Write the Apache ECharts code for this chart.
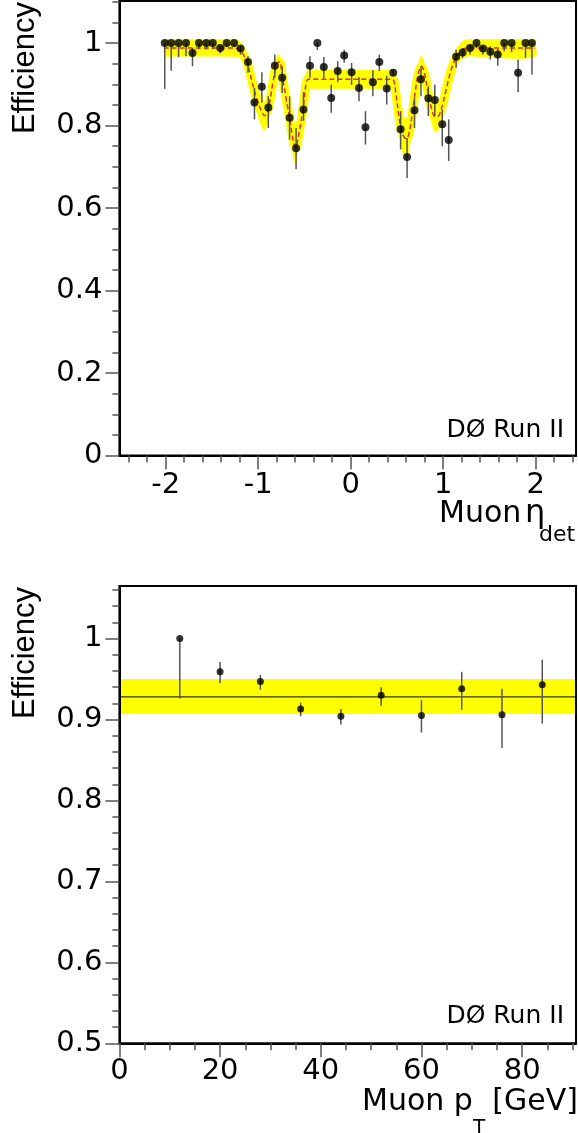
<!DOCTYPE html>
<html>
<head>
<meta charset="utf-8">
<title>Muon efficiency</title>
<script src="https://cdn.jsdelivr.net/npm/echarts@6/dist/echarts.min.js"></script>
<style>
  html, body { margin: 0; padding: 0; background: #fff; }
  #chart { width: 578px; height: 1133px; }
</style>
</head>
<body>
<div id="chart"></div>
<script>
// top panel: efficiency vs muon eta_det
var etaBins = [-2.01, -1.94, -1.86, -1.78, -1.71, -1.64, -1.56, -1.49, -1.41, -1.34, -1.26, -1.19, -1.11, -1.04,
  -0.96, -0.89, -0.82, -0.74, -0.66, -0.59, -0.51, -0.44, -0.36, -0.29, -0.21, -0.14, -0.07,
  0.01, 0.09, 0.16, 0.24, 0.31, 0.39, 0.46, 0.54, 0.61, 0.69, 0.76, 0.84, 0.91, 0.99,
  1.06, 1.14, 1.21, 1.29, 1.36, 1.43, 1.51, 1.59, 1.66, 1.74, 1.81, 1.89, 1.96];
var etaEff = [1.000, 1.000, 1.000, 1.000, 0.976, 1.000, 1.000, 1.000, 0.988, 1.000, 1.000, 0.987, 0.954, 0.856,
  0.894, 0.844, 0.945, 0.916, 0.819, 0.745, 0.839, 0.945, 1.000, 0.942, 0.867, 0.932, 0.970,
  0.929, 0.891, 0.796, 0.905, 0.954, 0.890, 0.928, 0.791, 0.724, 0.837, 0.912, 0.866, 0.862, 0.803,
  0.765, 0.967, 0.977, 0.988, 1.000, 0.987, 0.979, 0.972, 1.000, 1.000, 0.928, 1.000, 1.000];
var etaErrLow = [0.889, 0.933, 0.966, 0.968, 0.944, 0.985, 0.984, 0.985, 0.975, 0.990, 0.990, 0.972, 0.928, 0.815,
  0.855, 0.794, 0.916, 0.879, 0.766, 0.694, 0.811, 0.916, 0.983, 0.914, 0.831, 0.905, 0.952,
  0.899, 0.859, 0.754, 0.871, 0.932, 0.851, 0.920, 0.742, 0.673, 0.794, 0.871, 0.823, 0.823, 0.750,
  0.714, 0.940, 0.964, 0.972, 0.988, 0.972, 0.960, 0.945, 0.980, 0.978, 0.881, 0.964, 0.924];
var etaErrHigh = [1.000, 1.000, 1.000, 1.000, 0.988, 1.000, 1.000, 1.000, 0.994, 1.000, 1.000, 0.994, 0.968, 0.891,
  0.929, 0.871, 0.972, 0.944, 0.871, 0.794, 0.881, 0.968, 1.000, 0.966, 0.899, 0.956, 0.984,
  0.952, 0.918, 0.835, 0.934, 0.972, 0.921, 0.936, 0.835, 0.770, 0.867, 0.944, 0.895, 0.899, 0.839,
  0.815, 0.984, 0.988, 0.996, 1.000, 0.994, 0.992, 0.986, 1.000, 1.000, 0.960, 1.000, 1.000];

// fitted curve: centre and half-height of the yellow band
var fitEta = [-2.02, -1.30, -1.23, -1.19, -1.125, -1.07, -1.017, -0.962, -0.93, -0.887, -0.84, -0.80, -0.77,
  -0.739, -0.70, -0.663, -0.62, -0.595, -0.566, -0.512, -0.48, -0.46, -0.40, 0.40, 0.454, 0.49, 0.537,
  0.57, 0.60, 0.63, 0.666, 0.70, 0.73, 0.765, 0.80, 0.836, 0.87, 0.91, 0.94, 0.98, 1.03, 1.08, 1.135,
  1.20, 1.26, 1.35, 1.99];
var fitEff = [0.988, 0.988, 0.987, 0.982, 0.956, 0.910, 0.866, 0.834, 0.824, 0.845, 0.905, 0.949, 0.955,
  0.920, 0.868, 0.822, 0.762, 0.746, 0.772, 0.845, 0.905, 0.912, 0.912, 0.912, 0.912, 0.875, 0.800,
  0.775, 0.768, 0.780, 0.830, 0.885, 0.925, 0.944, 0.925, 0.880, 0.845, 0.822, 0.822, 0.840, 0.885, 0.930, 0.963,
  0.982, 0.988, 0.988, 0.988];
var fitErr = [0.021, 0.021, 0.021, 0.021, 0.024, 0.028, 0.033, 0.038, 0.036, 0.030, 0.024, 0.018, 0.018,
  0.022, 0.030, 0.035, 0.040, 0.040, 0.035, 0.028, 0.024, 0.023, 0.023, 0.023, 0.023, 0.030, 0.040,
  0.048, 0.050, 0.045, 0.035, 0.026, 0.024, 0.026, 0.026, 0.030, 0.035, 0.038, 0.036, 0.034, 0.028, 0.024, 0.022,
  0.021, 0.021, 0.021, 0.021];

// bottom panel: efficiency vs muon pT
var ptBins = [12, 20, 28, 36, 44, 52, 60, 68, 76, 84];
var ptEff = [1.000, 0.959, 0.947, 0.913, 0.904, 0.930, 0.905, 0.938, 0.906, 0.943];
var ptErrLow = [0.926, 0.945, 0.937, 0.904, 0.894, 0.917, 0.884, 0.912, 0.865, 0.895];
var ptErrHigh = [1.000, 0.971, 0.955, 0.921, 0.913, 0.940, 0.924, 0.959, 0.938, 0.974];
var ptFit = 0.928;
var ptBandLow = 0.907;
var ptBandHigh = 0.950;

// axis ticks
var etaTicks = [-2, -1, 0, 1, 2];
var effTicksTop = [0, 0.2, 0.4, 0.6, 0.8, 1];
var ptTicks = [0, 20, 40, 60, 80];
var effTicksBottom = [0.5, 0.6, 0.7, 0.8, 0.9, 1];

function steps(from, to, step) {
  var out = [];
  for (var v = from; v <= to + 1e-9; v += step) out.push(Math.round(v * 1000) / 1000);
  return out;
}

var tickFont = 'DejaVu Sans';
var tickColor = '#555';

function makeAxis(type, grid, min, max, major, minor, margin) {
  var pos = type === 'x' ? 'bottom' : 'left';
  var base = {
    type: 'value', gridIndex: grid, position: pos, min: min, max: max, z: 10,
    splitLine: { show: false }
  };
  var majorAxis = Object.assign({}, base, {
    axisLine: { show: true, onZero: false, lineStyle: { color: '#000', width: 2 } },
    axisTick: { show: true, length: 14, customValues: major, lineStyle: { color: tickColor, width: 1.5 } },
    axisLabel: { show: true, customValues: major, margin: margin, fontFamily: tickFont, fontSize: 29, color: '#000' }
  });
  var minorAxis = Object.assign({}, base, {
    axisLine: { show: false, onZero: false },
    axisTick: { show: true, length: 7, customValues: minor, lineStyle: { color: tickColor, width: 1.5 } },
    axisLabel: { show: false }
  });
  return [majorAxis, minorAxis];
}

var etaMin = -2.5, etaMax = 2.436;
var effTopMax = 1.102;
var ptMin = 0, ptMax = 90.7;
var effBotMin = 0.5, effBotMax = 1.065;

var xAxes = makeAxis('x', 0, etaMin, etaMax, etaTicks, steps(-2.4, 2.4, 0.2), 15)
  .concat(makeAxis('x', 1, ptMin, ptMax, ptTicks, steps(0, 90, 5), 14));
var yAxes = makeAxis('y', 0, 0, effTopMax, effTicksTop, steps(0, 1.1, 0.05), 17)
  .concat(makeAxis('y', 1, effBotMin, effBotMax, effTicksBottom, steps(0.5, 1.06, 0.02), 17));

function errorBar(params, api) {
  var p1 = api.coord([api.value(0), api.value(1)]);
  var p2 = api.coord([api.value(0), api.value(2)]);
  return {
    type: 'line',
    shape: { x1: p1[0], y1: p1[1], x2: p2[0], y2: p2[1] },
    style: { stroke: '#555', lineWidth: 1.5 }
  };
}

var yellow = '#ffff00';
var smoothing = 0.35;

// yellow band of the fit: one closed, smoothed polygon (corners doubled to keep the ends square)
function fitBand(params, api) {
  if (params.dataIndex !== 0) return null;
  var n = fitEta.length, pts = [], i;
  var up = function (k) { return api.coord([fitEta[k], fitEff[k] + fitErr[k]]); };
  var lo = function (k) { return api.coord([fitEta[k], fitEff[k] - fitErr[k]]); };
  pts.push(up(0));
  for (i = 0; i < n; i++) pts.push(up(i));
  pts.push(up(n - 1));
  for (i = n - 1; i >= 0; i--) pts.push(lo(i));
  pts.push(lo(0));
  return {
    type: 'polygon',
    shape: { points: pts, smooth: smoothing },
    style: { fill: yellow }
  };
}

var etaPoints = etaBins.map(function (x, i) { return [x, etaEff[i]]; });
var etaErrors = etaBins.map(function (x, i) { return [x, etaErrLow[i], etaErrHigh[i]]; });
var fitCurve = fitEta.map(function (x, i) { return [x, fitEff[i]]; });
var fitRows = fitEta.map(function (x, i) { return [x, fitEff[i] - fitErr[i], fitEff[i] + fitErr[i]]; });
var ptPoints = ptBins.map(function (x, i) { return [x, ptEff[i]]; });
var ptErrors = ptBins.map(function (x, i) { return [x, ptErrLow[i], ptErrHigh[i]]; });

var myChart = echarts.init(document.getElementById('chart'), null, { renderer: 'canvas' });

function textItem(x, y, text, size, family, align, rotate) {
  return {
    type: 'text', x: x, y: y, rotation: rotate ? Math.PI / 2 : 0, z: 100,
    style: {
      text: text, fontSize: size, fontFamily: family, fill: '#000',
      align: align, textAlign: align, verticalAlign: 'middle', textVerticalAlign: 'middle'
    }
  };
}

var option = {
  animation: false,
  backgroundColor: '#fff',
  grid: [
    { left: 119.4, top: 1, width: 456.6, height: 454.5, show: true, borderColor: '#000', borderWidth: 2,
      z: 10, containLabel: false, outerBoundsMode: 'none' },
    { left: 119.4, top: 586, width: 456.6, height: 457.3, show: true, borderColor: '#000', borderWidth: 2,
      z: 10, containLabel: false, outerBoundsMode: 'none' }
  ],
  xAxis: xAxes,
  yAxis: yAxes,
  series: [
    {
      type: 'custom', xAxisIndex: 0, yAxisIndex: 0, data: fitRows,
      renderItem: fitBand, encode: { x: 0, y: [1, 2] }, z: 1
    },
    {
      type: 'line', xAxisIndex: 0, yAxisIndex: 0, data: fitCurve,
      smooth: smoothing, symbol: 'none', z: 3,
      lineStyle: { color: yellow, width: 9, cap: 'butt', join: 'round' }
    },
    {
      type: 'line', xAxisIndex: 0, yAxisIndex: 0, data: fitCurve,
      smooth: smoothing, symbol: 'none', z: 4,
      lineStyle: { color: '#e8281e', width: 1.5, type: [5, 3] }
    },
    {
      type: 'custom', xAxisIndex: 0, yAxisIndex: 0, data: etaErrors,
      renderItem: errorBar, encode: { x: 0, y: [1, 2] }, z: 5
    },
    {
      type: 'scatter', xAxisIndex: 0, yAxisIndex: 0, data: etaPoints,
      symbol: 'circle', symbolSize: 8, itemStyle: { color: '#000' }, z: 6
    },
    {
      type: 'custom', xAxisIndex: 2, yAxisIndex: 2, data: [[ptBandLow, ptBandHigh]],
      renderItem: function (params, api) {
        var a = api.coord([ptMin, api.value(1)]);
        var b = api.coord([ptMax, api.value(0)]);
        return {
          type: 'rect',
          shape: { x: a[0], y: a[1], width: b[0] - a[0], height: b[1] - a[1] },
          style: { fill: yellow }
        };
      },
      z: 1
    },
    {
      type: 'line', xAxisIndex: 2, yAxisIndex: 2, data: [[ptMin, ptFit], [ptMax, ptFit]],
      symbol: 'none', z: 2, lineStyle: { color: '#333', width: 1.3 }
    },
    {
      type: 'custom', xAxisIndex: 2, yAxisIndex: 2, data: ptErrors,
      renderItem: errorBar, encode: { x: 0, y: [1, 2] }, z: 5
    },
    {
      type: 'scatter', xAxisIndex: 2, yAxisIndex: 2, data: ptPoints,
      symbol: 'circle', symbolSize: 7, itemStyle: { color: '#000' }, z: 6
    }
  ],
  graphic: [
    textItem(25, 2, 'Efficiency', 31, 'Liberation Sans', 'right', true),
    textItem(25, 587, 'Efficiency', 31, 'Liberation Sans', 'right', true),
    textItem(564, 430.5, 'DØ Run II', 25, 'DejaVu Sans', 'right'),
    textItem(564, 1016.5, 'DØ Run II', 25, 'DejaVu Sans', 'right'),
    textItem(439, 514, 'Muon', 30, 'DejaVu Sans', 'left'),
    textItem(525, 514, 'η', 32, 'DejaVu Sans', 'left'),
    textItem(539, 535.5, 'det', 22, 'DejaVu Sans', 'left'),
    textItem(362, 1102.5, 'Muon p', 30, 'DejaVu Sans', 'left'),
    textItem(473, 1127.7, 'T', 20, 'DejaVu Sans', 'left'),
    textItem(578, 1102.5, '[GeV]', 30, 'DejaVu Sans', 'right')
  ]
};

myChart.setOption(option);
</script>
</body>
</html>
